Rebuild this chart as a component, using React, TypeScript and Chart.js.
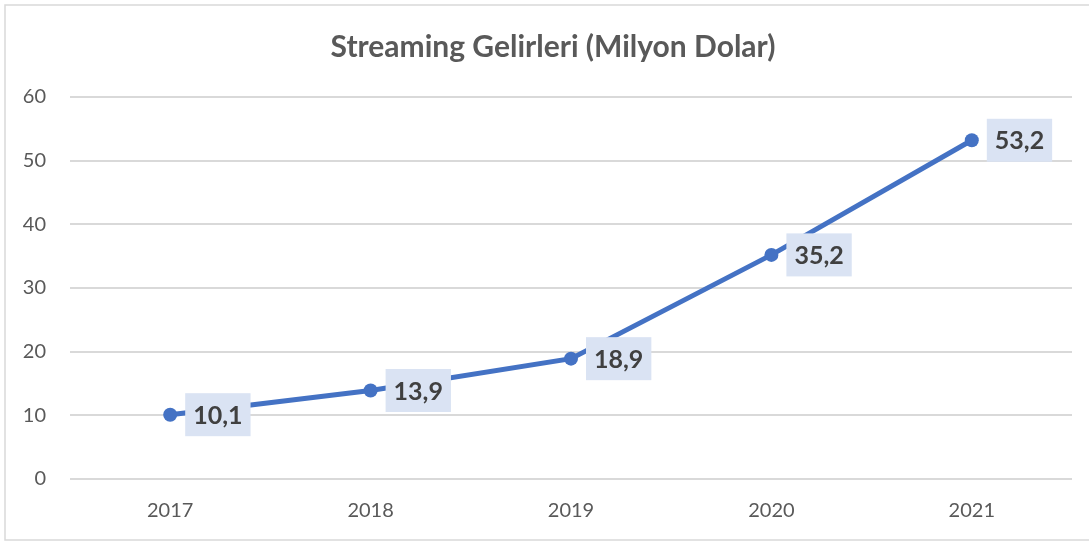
import React, { useEffect, useRef } from "react";
import { Chart, registerables } from "chart.js";

Chart.register(...registerables);

const categories = ["2017", "2018", "2019", "2020", "2021"];
const revenue = [10.1, 13.9, 18.9, 35.2, 53.2];
const yTicks = [0, 10, 20, 30, 40, 50, 60];
const chartTitle = "Streaming Gelirleri (Milyon Dolar)";

const W = 1089;
const H = 543;

const decorPlugin = {
  id: "decor",
  beforeDraw(chart: any) {
    const ctx = chart.ctx;
    ctx.save();
    ctx.fillStyle = "#ffffff";
    ctx.fillRect(0, 0, W, H);
    ctx.strokeStyle = "#D9D9D9";
    ctx.lineWidth = 1.5;
    ctx.strokeRect(5, 5, W + 20, 535);
    ctx.fillStyle = "#595959";
    ctx.font = "bold 30px Lato";
    ctx.textAlign = "center";
    ctx.textBaseline = "middle";
    ctx.fillText(chartTitle, 553, 47);
    ctx.restore();
  },
  afterDatasetsDraw(chart: any) {
    const ctx = chart.ctx;
    const meta = chart.getDatasetMeta(0);
    ctx.save();
    ctx.font = "bold 25px Lato";
    ctx.textBaseline = "middle";
    ctx.textAlign = "center";
    meta.data.forEach((pt: any, i: number) => {
      const txt = String(revenue[i]).replace(".", ",");
      const tw = ctx.measureText(txt).width;
      const bw = tw + 16;
      const bh = 43;
      const bx = pt.x + 15;
      const by = pt.y - bh / 2;
      ctx.fillStyle = "#DAE3F3";
      ctx.fillRect(bx, by, bw, bh);
      ctx.fillStyle = "#404040";
      ctx.fillText(txt, bx + bw / 2, pt.y + 1);
    });
    ctx.restore();
  },
};

export default function App() {
  const ref = useRef<HTMLCanvasElement>(null);
  useEffect(() => {
    document.body.style.margin = "0";
    const chart = new Chart(ref.current as HTMLCanvasElement, {
      type: "line",
      data: {
        labels: categories,
        datasets: [
          {
            data: revenue,
            borderColor: "#4472C4",
            backgroundColor: "#4472C4",
            borderWidth: 5,
            pointRadius: 7,
            pointBackgroundColor: "#4472C4",
            pointBorderWidth: 0,
            tension: 0,
          },
        ],
      },
      options: {
        responsive: false,
        animation: false,
        layout: { padding: { top: 97, right: 17, left: 0, bottom: 0 } },
        plugins: {
          legend: { display: false },
          title: { display: false },
          tooltip: { enabled: false },
        },
        scales: {
          x: {
            offset: true,
            grid: { display: false, drawTicks: false },
            border: { display: false },
            ticks: {
              color: "#595959",
              font: { family: "Lato", size: 20 },
              padding: 20,
            },
            afterFit(s: any) {
              s.height = 64;
            },
          },
          y: {
            min: 0,
            max: 60,
            grid: { color: "#D9D9D9", lineWidth: 2, drawTicks: false },
            border: { display: false },
            afterBuildTicks(s: any) {
              s.ticks = yTicks.map((v) => ({ value: v }));
            },
            ticks: {
              color: "#595959",
              font: { family: "Lato", size: 20 },
              padding: 24,
            },
            afterFit(s: any) {
              s.width = 70;
            },
          },
        },
      },
      plugins: [decorPlugin],
    });
    return () => chart.destroy();
  }, []);
  return (
    <canvas
      ref={ref}
      width={W}
      height={H}
      style={{ display: "block", width: W, height: H }}
    />
  );
}
